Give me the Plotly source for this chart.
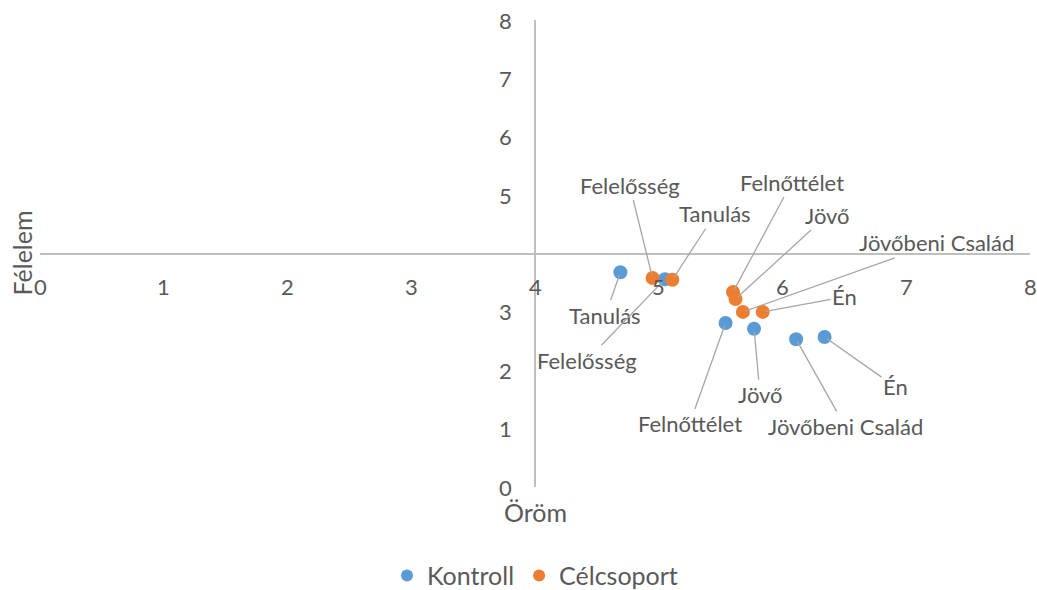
import plotly.graph_objects as go

categories = ["Tanulás", "Felelősség", "Felnőttélet", "Jövő", "Jövőbeni Család", "Én"]

kontroll_x = [4.69, 5.05, 5.54, 5.77, 6.11, 6.34]
kontroll_y = [3.68, 3.56, 2.81, 2.71, 2.53, 2.57]

celcsoport_x = [5.11, 4.95, 5.60, 5.62, 5.68, 5.84]
celcsoport_y = [3.55, 3.58, 3.34, 3.22, 3.00, 3.00]

x_ticks = [0, 1, 2, 3, 4, 5, 6, 7, 8]
y_ticks = [0, 1, 2, 3, 5, 6, 7, 8]
axis_cross = 4

# label offsets (pixels) for data labels: (ax, ay)
kontroll_offsets = [(-15, 43), (-78, 81), (-36, 101), (6, 66), (49, 87), (71, 50)]
celcsoport_offsets = [(43, -66), (-23, -93), (59, -110), (92, -84), (194, -69), (82, -15)]

BLUE = "#5B9BD5"
ORANGE = "#ED7D31"
TXT = "#595959"
LINE = "#BFBFBF"
FONT = "Lato"
FS = 22
FS_BIG = 25

fig = go.Figure()
fig.add_trace(go.Scatter(x=kontroll_x, y=kontroll_y, mode="markers", name="Kontroll",
                         marker=dict(color=BLUE, size=14)))
fig.add_trace(go.Scatter(x=celcsoport_x, y=celcsoport_y, mode="markers", name="Célcsoport",
                         marker=dict(color=ORANGE, size=14)))

annotations = []
for xs, ys, offs in [(kontroll_x, kontroll_y, kontroll_offsets),
                     (celcsoport_x, celcsoport_y, celcsoport_offsets)]:
    for name, x, y, (ax, ay) in zip(categories, xs, ys, offs):
        annotations.append(dict(x=x, y=y, xref="x", yref="y", text=name,
                                showarrow=True, arrowhead=0, arrowwidth=1.3,
                                arrowcolor="#A6A6A6", ax=ax, ay=ay, standoff=3,
                                font=dict(family=FONT, size=FS, color=TXT)))

# tick labels placed next to the crossing axes
for v in x_ticks:
    annotations.append(dict(x=v, y=axis_cross, xref="x", yref="y", text=str(v),
                            showarrow=False, xanchor="center", yanchor="middle", yshift=-33,
                            font=dict(family=FONT, size=FS, color=TXT)))
for v in y_ticks:
    annotations.append(dict(x=axis_cross, y=v, xref="x", yref="y", text=str(v),
                            showarrow=False, xanchor="right", yanchor="middle", xshift=-21,
                            font=dict(family=FONT, size=FS, color=TXT)))

annotations.append(dict(text="Félelem", xref="paper", yref="paper", x=0, y=0.5,
                        xanchor="center", yanchor="middle", textangle=-90, showarrow=False,
                        xshift=-19, font=dict(family=FONT, size=FS_BIG, color=TXT)))
annotations.append(dict(text="Öröm", xref="x", yref="paper", x=4, y=0, yshift=-25,
                        xanchor="center", yanchor="middle", showarrow=False,
                        font=dict(family=FONT, size=FS_BIG, color=TXT)))

fig.update_layout(
    width=1037, height=590,
    margin=dict(l=40, r=7, t=20, b=103, autoexpand=False),
    paper_bgcolor="white", plot_bgcolor="white",
    font=dict(family=FONT, size=FS, color=TXT),
    showlegend=True,
    legend=dict(orientation="h", x=0.5, xanchor="center", y=-0.19, yanchor="middle",
                font=dict(family=FONT, size=FS_BIG, color=TXT), itemsizing="constant"),
    xaxis=dict(range=[0, 8], anchor="free", position=0.5, showline=True, linecolor=LINE,
               linewidth=1.5, showgrid=False, zeroline=False, showticklabels=False,
               automargin=False, ticks=""),
    yaxis=dict(range=[0, 8], anchor="free", position=0.5, showline=True, linecolor=LINE,
               linewidth=1.5, showgrid=False, zeroline=False, showticklabels=False,
               automargin=False, ticks=""),
    annotations=annotations,
)

# remove the browser's default page margin so the figure fills the window exactly
fig.write_html("out.html", config={"displayModeBar": False},
               post_script="document.body.style.margin='0';document.body.style.overflow='hidden';")
